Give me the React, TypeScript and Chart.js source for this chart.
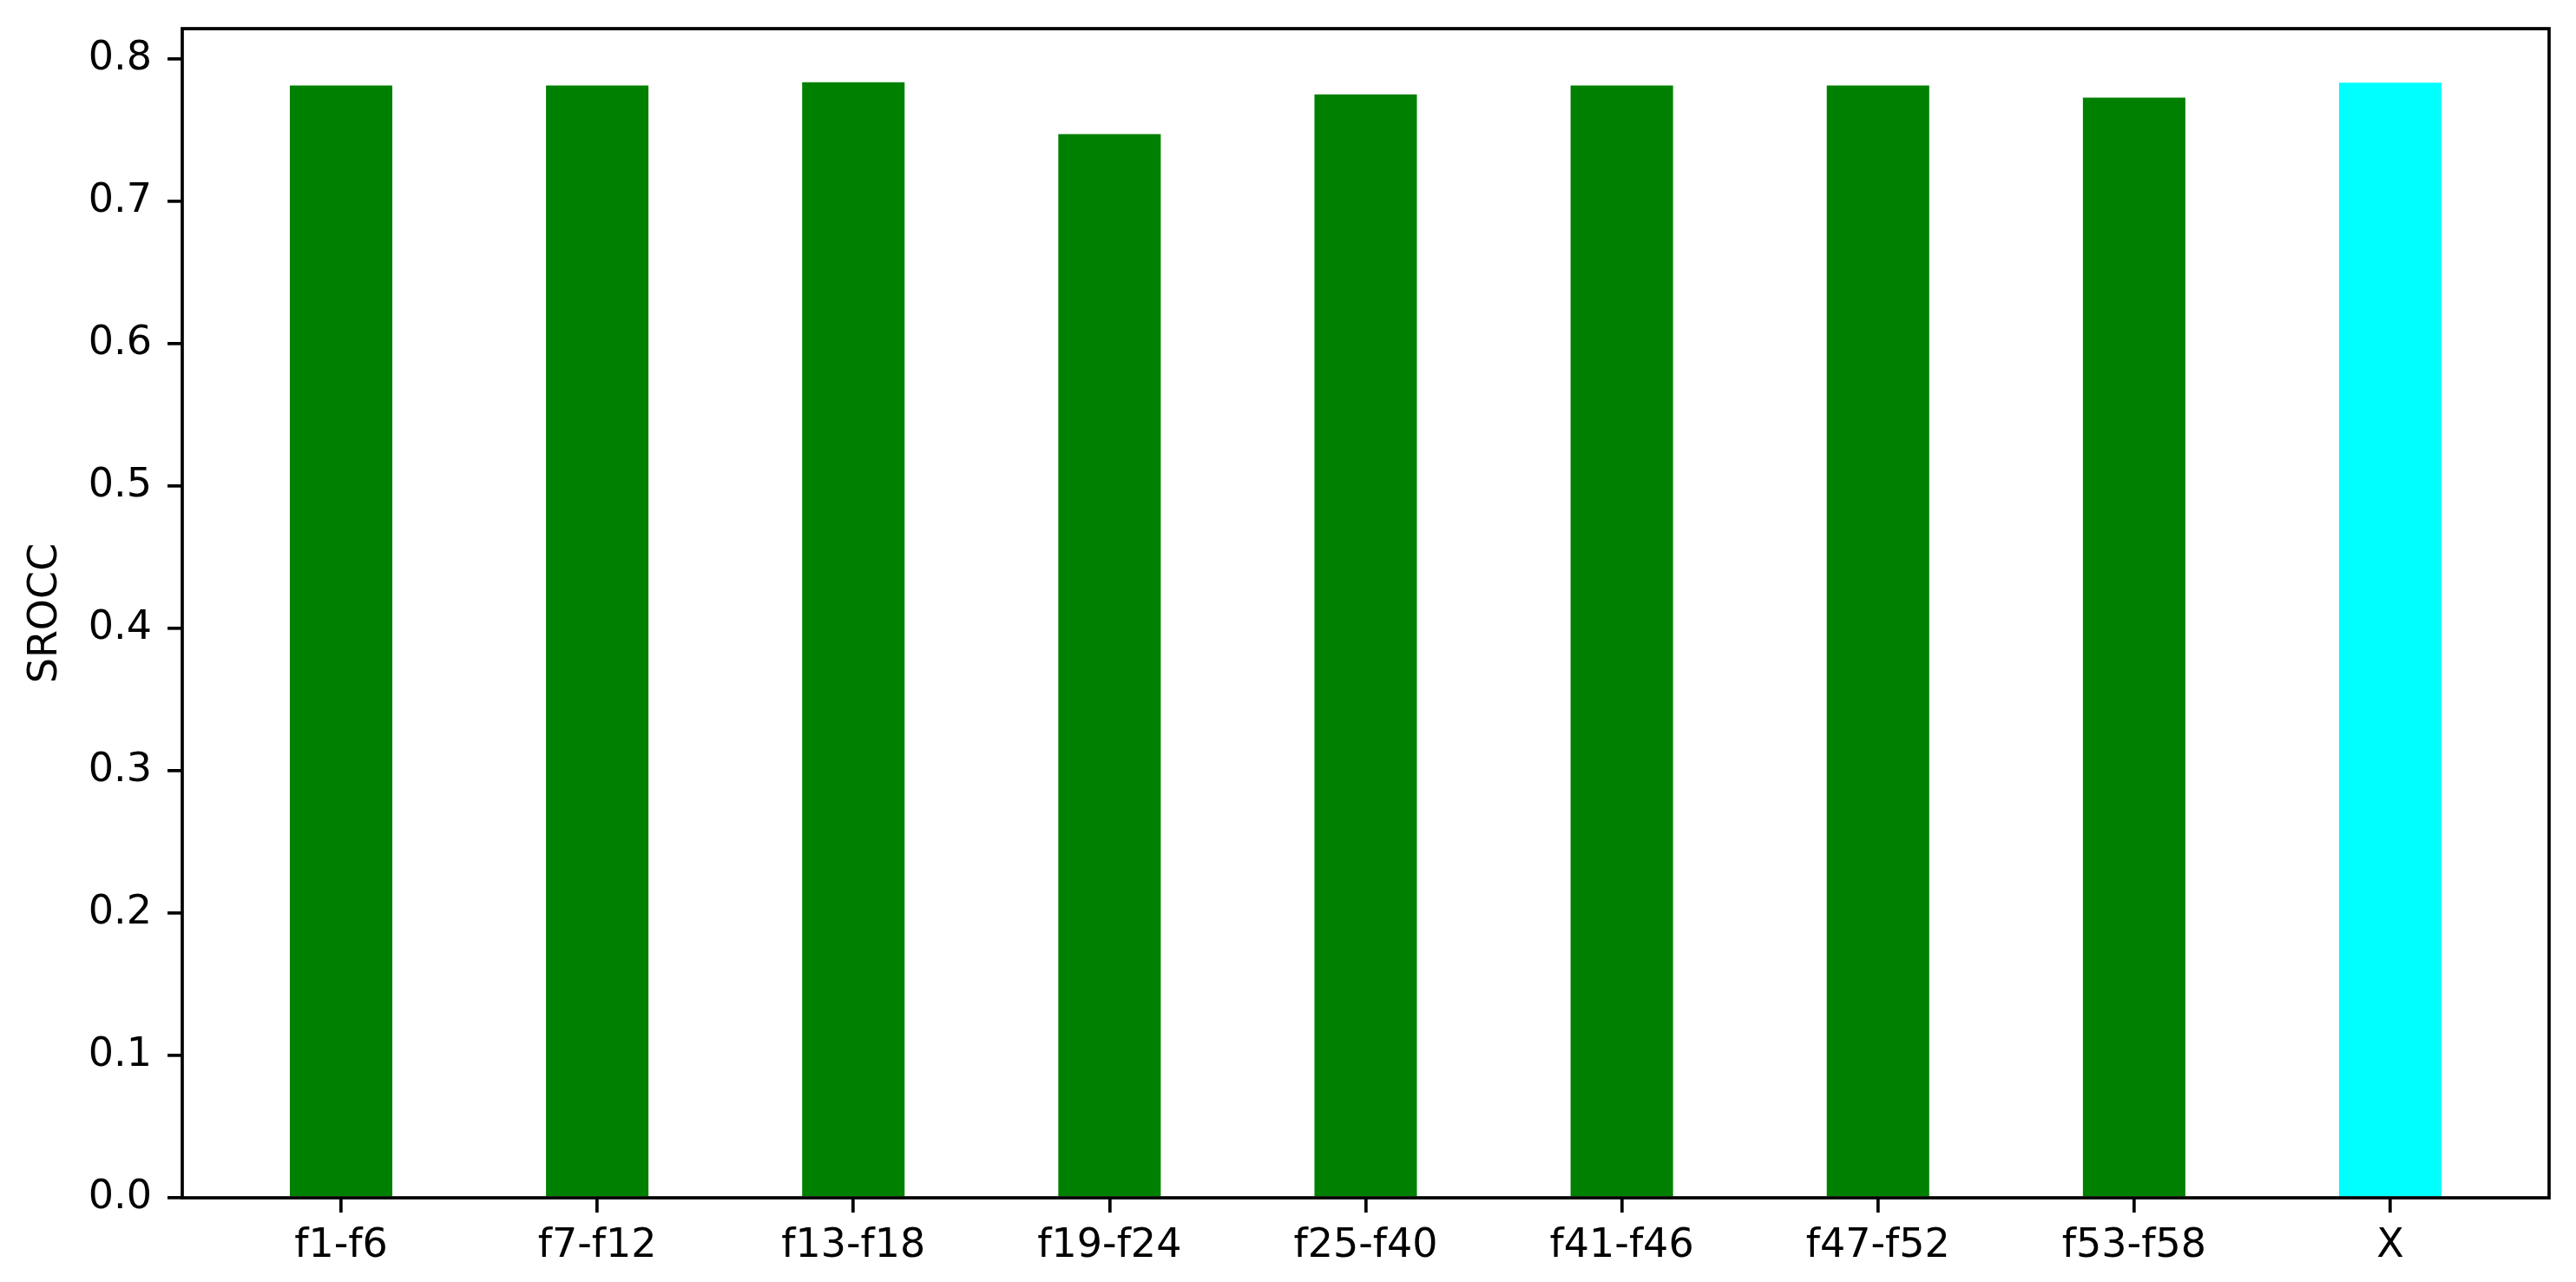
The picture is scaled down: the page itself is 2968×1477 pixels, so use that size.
import React, { useEffect, useRef } from "react";
import { Chart, registerables } from "chart.js";

Chart.register(...registerables);

const categories = ["f1-f6", "f7-f12", "f13-f18", "f19-f24", "f25-f40", "f41-f46", "f47-f52", "f53-f58", "X"];
const srocc = [0.7813, 0.7813, 0.7835, 0.7472, 0.775, 0.7813, 0.7813, 0.7728, 0.7833];
const barColors = ["#008000", "#008000", "#008000", "#008000", "#008000", "#008000", "#008000", "#008000", "#00FFFF"];
const yTicks = [0, 0.1, 0.2, 0.3, 0.4, 0.5, 0.6, 0.7, 0.8];
const yLabel = "SROCC";

const W = 2968;
const H = 1477;
const FONT = "'DejaVu Sans', sans-serif";
const FS = 46;
const LW = 3.7;

const framePlugin = {
  id: "frame",
  afterDatasetsDraw(chart: any) {
    const { ctx, chartArea } = chart;
    ctx.save();
    ctx.strokeStyle = "#000";
    ctx.lineWidth = LW;
    ctx.strokeRect(chartArea.left, chartArea.top, chartArea.right - chartArea.left, chartArea.bottom - chartArea.top);
    ctx.restore();
  },
};

export default function App() {
  const ref = useRef<HTMLCanvasElement | null>(null);
  useEffect(() => {
    if (!ref.current) return;
    const chart = new Chart(ref.current, {
      type: "bar",
      data: {
        datasets: [
          {
            data: srocc.map((v, i) => ({ x: i, y: v })),
            backgroundColor: barColors,
            borderWidth: 0,
            barPercentage: 0.4,
            categoryPercentage: 1,
          },
        ],
      },
      plugins: [framePlugin],
      options: {
        responsive: false,
        animation: false,
        layout: { padding: { top: 33, right: 31, left: 0, bottom: 0 } },
        plugins: { legend: { display: false }, tooltip: { enabled: false } },
        scales: {
          x: {
            type: "linear",
            min: -0.62,
            max: 8.62,
            offset: false,
            border: { display: false },
            grid: { display: true, offset: false, drawOnChartArea: false, drawTicks: true, tickLength: 17, tickWidth: LW, tickColor: "#000", lineWidth: LW },
            ticks: {
              color: "#000",
              font: { family: FONT, size: FS },
              padding: 11,
              maxRotation: 0,
              autoSkip: false,
              callback: (v: any) => categories[Math.round(Number(v))] ?? "",
            },
            afterBuildTicks: (scale: any) => {
              scale.ticks = categories.map((_, i) => ({ value: i }));
            },
            afterFit: (scale: any) => {
              scale.height = 97;
              scale.paddingLeft = 0;
              scale.paddingRight = 0;
            },
          },
          y: {
            min: 0,
            max: 0.8212,
            border: { display: false },
            grid: { display: true, drawOnChartArea: false, drawTicks: true, tickLength: 17, tickWidth: LW, tickColor: "#000", lineWidth: LW },
            ticks: {
              color: "#000",
              font: { family: FONT, size: FS },
              padding: 18,
              callback: (v: any) => Number(v).toFixed(1),
            },
            afterBuildTicks: (scale: any) => {
              scale.ticks = yTicks.map((v) => ({ value: v }));
            },
            afterFit: (scale: any) => {
              scale.width = 210;
              scale.paddingTop = 0;
              scale.paddingBottom = 0;
            },
            title: {
              display: true,
              text: yLabel,
              color: "#000",
              font: { family: FONT, size: FS },
              padding: { top: 25, bottom: 0 },
            },
          },
        },
      },
    } as any);
    return () => chart.destroy();
  }, []);
  return (
    <div style={{ position: "absolute", left: 0, top: 0, width: W, height: H, background: "#fff" }}>
      <canvas ref={ref} width={W} height={H} style={{ display: "block", width: W, height: H }} />
    </div>
  );
}
